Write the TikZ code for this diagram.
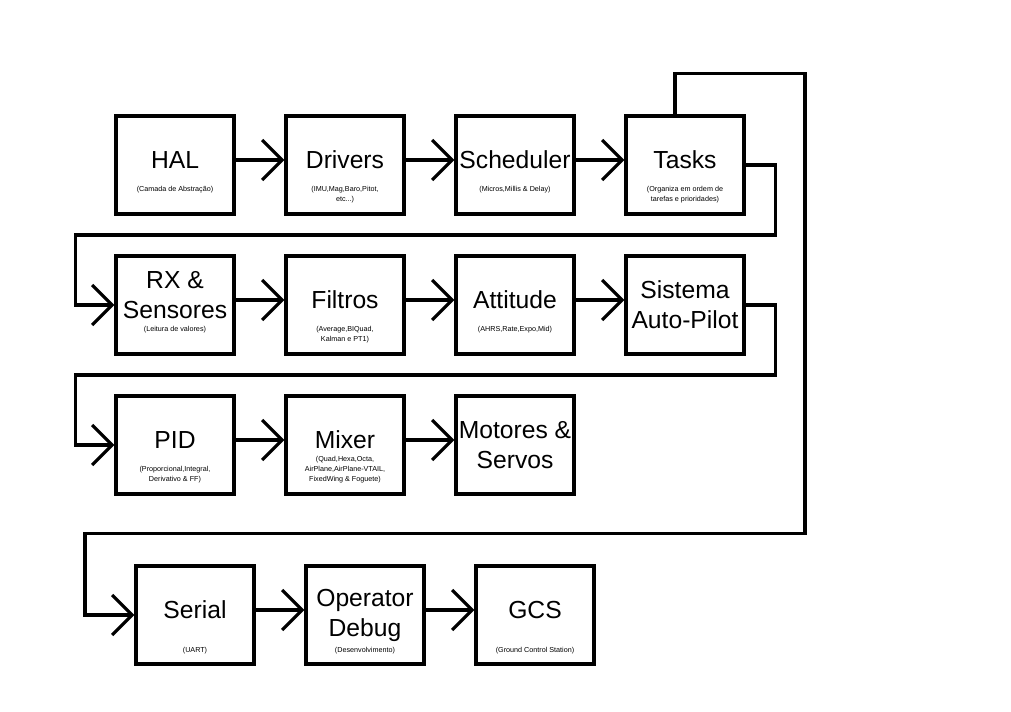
\documentclass[tikz,border=0pt]{standalone}
\usepackage{fontspec}
\setmainfont{Liberation Sans}
\usetikzlibrary{arrows.meta}

\tikzset{every picture/.style={line width=2.4pt}}
\tikzset{
  bloco/.style={draw, line width=2.4pt, minimum width=88.5pt, minimum height=73.5pt, inner sep=0pt},
  titulo/.style={inner sep=0pt, align=center, font=\fontsize{18.5}{22.5}\selectfont},
  nota/.style={inner sep=0pt, align=center, anchor=north, font=\fontsize{5.4}{7.5}\selectfont},
  seta/.style={-{Straight Barb[length=15pt,width=30pt]}, line width=2.4pt},
}

\begin{document}
\begin{tikzpicture}[x=0.75pt,y=0.75pt,yscale=-1,xscale=1]
\useasboundingbox (0,0) rectangle (1011,711);

% Blocos
\node[bloco] (hal) at (175,165) {};
\node[bloco] (drivers) at (345,165) {};
\node[bloco] (scheduler) at (515,165) {};
\node[bloco] (tasks) at (685,165) {};

\node[bloco] (rx) at (175,305) {};
\node[bloco] (filtros) at (345,305) {};
\node[bloco] (attitude) at (515,305) {};
\node[bloco] (sistema) at (685,305) {};

\node[bloco] (pid) at (175,445) {};
\node[bloco] (mixer) at (345,445) {};
\node[bloco] (motores) at (515,445) {};

\node[bloco] (serial) at (195,615) {};
\node[bloco] (debug) at (365,615) {};
\node[bloco] (gcs) at (535,615) {};

% Titulos
\node[titulo] (t_hal) at (175,160) {HAL};
\node[titulo] (t_drivers) at (345,160) {Drivers};
\node[titulo] (t_scheduler) at (515,160) {Scheduler};
\node[titulo] (t_tasks) at (685,160) {Tasks};
\node[titulo] (t_rx) at (175,295) {RX \&\\Sensores};
\node[titulo] (t_filtros) at (345,300) {Filtros};
\node[titulo] (t_attitude) at (515,300) {Attitude};
\node[titulo] (t_sistema) at (685,305) {Sistema\\Auto-Pilot};
\node[titulo] (t_pid) at (175,440) {PID};
\node[titulo] (t_mixer) at (345,440) {Mixer};
\node[titulo] (t_motores) at (515,445) {Motores \&\\Servos};
\node[titulo] (t_serial) at (195,610) {Serial};
\node[titulo] (t_debug) at (365,615) {Operator\\Debug};
\node[titulo] (t_gcs) at (535,610) {GCS};

% Notas
\node[nota] (n_hal) at (175,185) {(Camada de Abstração)};
\node[nota] (n_drivers) at (345,185) {(IMU,Mag,Baro,Pitot,\\etc...)};
\node[nota] (n_scheduler) at (515,185) {(Micros,Millis \& Delay)};
\node[nota] (n_tasks) at (685,185) {(Organiza em ordem de\\tarefas e prioridades)};
\node[nota] (n_rx) at (175,325) {(Leitura de valores)};
\node[nota] (n_filtros) at (345,325) {(Average,BIQuad,\\Kalman e PT1)};
\node[nota] (n_attitude) at (515,325) {(AHRS,Rate,Expo,Mid)};
\node[nota] (n_pid) at (175,465) {(Proporcional,Integral,\\Derivativo \& FF)};
\node[nota] (n_mixer) at (345,455) {(Quad,Hexa,Octa,\\AirPlane,AirPlane-VTAIL,\\FixedWing \& Foguete)};
\node[nota] (n_serial) at (195,646) {(UART)};
\node[nota] (n_debug) at (365,646) {(Desenvolvimento)};
\node[nota] (n_gcs) at (535,646) {(Ground Control Station)};

% Setas entre blocos
\foreach \a/\b in {hal/drivers, drivers/scheduler, scheduler/tasks,
                   rx/filtros, filtros/attitude, attitude/sistema,
                   pid/mixer, mixer/motores, serial/debug, debug/gcs}
  \draw[seta] ([yshift=-3.75pt]\a.east) -- ([yshift=-3.75pt]\b.west);

% Retornos de linha
\draw[seta] (tasks.east) -- ++(30,0) -- ++(0,70) -- ++(-700,0) |- (rx.west);
\draw[seta] (sistema.east) -- ++(30,0) -- ++(0,70) -- ++(-700,0) |- (pid.west);
\draw[seta] ([xshift=-7.5pt]tasks.north) -- ++(0,-41) -- ++(130,0) -- ++(0,460) -- ++(-720,0) |- (serial.west);

\end{tikzpicture}
\end{document}
